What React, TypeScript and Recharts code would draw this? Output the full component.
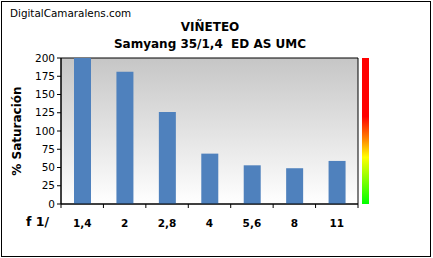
import React from 'react'
import { BarChart, Bar, XAxis, YAxis, CartesianGrid, ReferenceArea } from 'recharts'

const apertures = ['1,4', '2', '2,8', '4', '5,6', '8', '11']
const saturation = [200, 181, 126, 69, 53, 49, 59]
const yTicks = [0, 25, 50, 75, 100, 125, 150, 175, 200]

const data = apertures.map((f, i) => ({ f, value: saturation[i] }))

const FONT = '"DejaVu Sans", Verdana, sans-serif'

// tick marks sit on the category boundaries, not the centers
function BoundaryTick(props: any) {
  const { x, y, payload, index } = props
  const half = 297 / apertures.length / 2
  return (
    <g>
      <line x1={x - half} y1={y - 8} x2={x - half} y2={y - 4} stroke="#000" />
      {index === apertures.length - 1 && (
        <line x1={x + half} y1={y - 8} x2={x + half} y2={y - 4} stroke="#000" />
      )}
      <text x={x} y={y + 15} textAnchor="middle" fontFamily={FONT} fontSize={10.5} fontWeight="bold" fill="#000">
        {payload.value}
      </text>
    </g>
  )
}

export default function App() {
  return (
    <div style={{ position: 'absolute', left: 0, top: 0, width: 433, height: 258, background: '#fff' }}>
      <div
        style={{
          position: 'absolute', left: 1, top: 1, width: 428, height: 254,
          border: '1px solid #000', boxSizing: 'content-box',
        }}
      />
      <div style={{ position: 'absolute', left: 10, top: 7, fontFamily: FONT, fontSize: 10.4, color: '#000' }}>
        DigitalCamaralens.com
      </div>
      <div style={{ position: 'absolute', left: 0, width: 420, top: 19, textAlign: 'center', fontFamily: FONT, fontSize: 12, fontWeight: 'bold', lineHeight: '17px' }}>
        VIÑETEO
        <br />
        Samyang 35/1,4&nbsp; ED AS UMC
      </div>
      <div style={{ position: 'absolute', left: 26, top: 214, fontFamily: FONT, fontSize: 12.5, fontWeight: 'bold' }}>
        f 1/
      </div>
      <div
        style={{
          position: 'absolute', left: 362, top: 58, width: 7, height: 146,
          background: 'linear-gradient(to bottom, #ff0000 0%, #ff0000 40%, #ff8000 55%, #ffff00 68%, #80ff00 84%, #00ff00 100%)',
        }}
      />
      <BarChart width={433} height={258} data={data} margin={{ top: 58, right: 75, bottom: 24, left: 0 }}>
        <defs>
          <linearGradient id="plotBg" x1="0" y1="0" x2="0" y2="1">
            <stop offset="0%" stopColor="#c6c6c6" />
            <stop offset="100%" stopColor="#ffffff" />
          </linearGradient>
        </defs>
        <CartesianGrid horizontal={false} vertical={false} fill="url(#plotBg)" />
        <XAxis
          dataKey="f"
          height={30}
          axisLine={{ stroke: '#000' }}
          tickLine={false}
          tick={<BoundaryTick />}
          interval={0}
        />
        <YAxis
          width={61}
          domain={[0, 200]}
          ticks={yTicks}
          interval={0}
          axisLine={{ stroke: '#000' }}
          tickLine={{ stroke: '#000' }}
          tickSize={4}
          tick={{ fill: '#000', fontFamily: FONT, fontSize: 10.5 }}
          label={{
            value: '% Saturación', angle: -90, position: 'insideLeft', dx: 12,
            style: { fontFamily: FONT, fontSize: 12, fontWeight: 'bold', fill: '#000', textAnchor: 'middle' },
          }}
        />
        <ReferenceArea y1={0} y2={200} fill="none" stroke="#000" strokeWidth={1} />
        <Bar dataKey="value" fill="#4f81bd" barSize={17} isAnimationActive={false} />
      </BarChart>
    </div>
  )
}
